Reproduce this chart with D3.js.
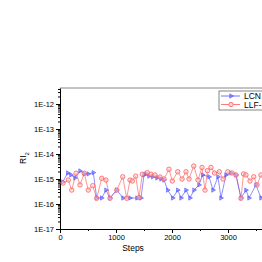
<!DOCTYPE html>
<html>
<head>
<meta charset="utf-8">
<script src="https://cdn.jsdelivr.net/npm/d3@7"></script>
<style>
  body { margin: 0; background: white; }
  text { font-family: "Liberation Sans", Arial, sans-serif; }
</style>
</head>
<body>
<div id="chart"></div>
<script>

// series (steps, RI2)
var lcnSteps = [48, 138, 196, 268, 357, 434, 505, 595, 655, 745, 821, 893, 1013, 1125, 1250, 1375, 1446,
    1500, 1536, 1589, 1655, 1732, 1804, 1857, 1923, 2013, 2102, 2161, 2250, 2321, 2393, 2482, 2548,
    2661, 2732, 2821, 2875, 2964, 3054, 3143, 3232, 3321, 3375, 3500, 3589, 3679];
var lcnValues = [7.6e-16, 1.74e-15, 1.45e-15, 1.1e-15, 2.1e-15, 1.6e-15, 1.6e-15, 1.8e-15, 1.74e-16, 1.74e-16,
    3.6e-16, 1.74e-16, 3.6e-16, 1.74e-16, 1.74e-16, 1.74e-16, 1.74e-16,
    1.45e-15, 1.6e-15, 1.3e-15, 1.23e-15, 1.1e-15, 1e-15, 9.1e-16, 3.6e-16, 1.74e-16, 3.6e-16, 1.74e-16,
    3.6e-16, 1.74e-16, 3.6e-16, 5.8e-16, 1.45e-15, 1.23e-15, 3.6e-16, 1.23e-15, 1.74e-16, 1.45e-15,
    1.74e-15, 1.45e-15, 1.74e-16, 3.6e-16, 1.74e-16, 5.8e-16, 1.74e-16, 3.6e-16];

var llfSteps = [54, 148, 209, 286, 357, 434, 505, 584, 655, 745, 821, 893, 1013, 1120, 1191, 1250, 1291,
    1352, 1411, 1470, 1559, 1625, 1696, 1786, 1857, 1946, 2005, 2102, 2179, 2250, 2304, 2388, 2464,
    2536, 2589, 2634, 2696, 2759, 2845, 2911, 2995, 3071, 3143, 3232, 3277, 3321, 3393, 3459, 3518,
    3589, 3679];
var llfValues = [6.9e-16, 9.1e-16, 3.6e-16, 1.7e-15, 5.8e-16, 1.7e-15, 3.6e-16, 5.4e-16, 1.7e-16, 1.07e-15,
    9.1e-16, 1.7e-16, 3.6e-16, 1.23e-15, 1.7e-16, 9.1e-16, 8.3e-16, 1.3e-15, 1.8e-16, 1.55e-15, 1.8e-15,
    1.55e-15, 1.45e-15, 1.2e-15, 1e-15, 2.45e-15, 8.3e-16, 1.95e-15, 1e-15, 1.95e-15, 1e-15, 3.3e-15,
    9.1e-16, 2.9e-15, 3.6e-16, 2.15e-15, 2.9e-15, 1.74e-15, 1.95e-15, 1e-15, 1.95e-15, 1.74e-15,
    1.45e-15, 1.7e-16, 1.6e-15, 1.45e-15, 8.3e-16, 1.23e-15, 5.8e-16, 1.45e-15, 1.1e-15];

var xTicks = [0, 1000, 2000, 3000];
var xMinorTicks = [500, 1500, 2500, 3500];
var yTicks = [1e-17, 1e-16, 1e-15, 1e-14, 1e-13, 1e-12];
var seriesNames = ["LCN", "LLF-"];

var width = 262, height = 262;
var mLeft = 60, mTop = 88, mBottom = 229, mRight = 284;

var svg = d3.select("#chart")
    .append("svg")
    .attr("width", width)
    .attr("height", height);

svg.append("rect")
    .attr("width", "100%")
    .attr("height", "100%")
    .attr("fill", "white");

var x = d3.scaleLinear().domain([0, 4000]).range([mLeft, mRight]);
var y = d3.scaleLog().domain([1e-17, Math.pow(10, -11.36)]).range([mBottom, mTop]);

// frame top
svg.append("line")
    .attr("x1", mLeft).attr("x2", mRight)
    .attr("y1", mTop).attr("y2", mTop)
    .style("stroke", "#888")
    .style("stroke-width", 1);

// minor ticks
var yMinor = [];
for (var e = -17; e < -11; e++) {
    for (var k = 2; k <= 9; k++) {
        if (k * Math.pow(10, e) < y.domain()[1]) yMinor.push(k * Math.pow(10, e));
    }
}
svg.append("g")
    .attr("transform", "translate(" + mLeft + ",0)")
    .call(d3.axisLeft(y).tickValues(yMinor).tickSize(2).tickFormat(""))
    .call(function(g) { g.select(".domain").remove(); });

svg.append("g")
    .attr("transform", "translate(0," + mBottom + ")")
    .call(d3.axisBottom(x).tickValues(xMinorTicks).tickSize(2).tickFormat(""))
    .call(function(g) { g.select(".domain").remove(); });

// main axes
var yAxis = svg.append("g")
    .attr("transform", "translate(" + mLeft + ",0)")
    .call(d3.axisLeft(y).tickValues(yTicks).tickSize(4).tickSizeOuter(0)
        .tickFormat(function(d) { return "1E" + Math.round(Math.log10(d)); }));
yAxis.selectAll("text").style("font-size", "7.5px").attr("x", -6).style("fill", "#000");

var xAxis = svg.append("g")
    .attr("transform", "translate(0," + mBottom + ")")
    .call(d3.axisBottom(x).tickValues(xTicks).tickSize(4).tickSizeOuter(0).tickFormat(d3.format("d")));
xAxis.selectAll("text").style("font-size", "7.5px").attr("y", 6).style("fill", "#000");

svg.selectAll(".domain, .tick line").style("stroke", "#000");

// titles
svg.append("text")
    .attr("x", 133).attr("y", 251)
    .attr("text-anchor", "middle")
    .style("font-size", "8.5px")
    .text("Steps");

var yt = svg.append("text")
    .attr("transform", "translate(26,158) rotate(-90)")
    .attr("text-anchor", "middle")
    .style("font-size", "8.5px");
yt.append("tspan").text("RI");
yt.append("tspan").attr("dy", 2.5).style("font-size", "6px").text("2");

// series
var lcn = lcnSteps.map(function(s, i) { return [s, lcnValues[i]]; });
var llf = llfSteps.map(function(s, i) { return [s, llfValues[i]]; });

var line = d3.line()
    .x(function(d) { return x(d[0]); })
    .y(function(d) { return y(d[1]); });

var blue = "#5050ff", red = "#ff5a5a";

svg.append("path").datum(llf)
    .attr("d", line)
    .style("fill", "none")
    .style("stroke", red)
    .style("stroke-opacity", 0.8)
    .style("stroke-width", 0.8);

svg.append("path").datum(lcn)
    .attr("d", line)
    .style("fill", "none")
    .style("stroke", blue)
    .style("stroke-opacity", 0.8)
    .style("stroke-width", 0.8);

var tri = d3.symbol().type(d3.symbolTriangle).size(8);

svg.append("g").selectAll("path")
    .data(lcn)
    .enter().append("path")
    .attr("d", tri)
    .attr("transform", function(d) { return "translate(" + x(d[0]) + "," + y(d[1]) + ") rotate(90)"; })
    .style("fill", blue)
    .style("fill-opacity", 0.5)
    .style("stroke", blue)
    .style("stroke-width", 0.6);

svg.append("g").selectAll("circle")
    .data(llf)
    .enter().append("circle")
    .attr("cx", function(d) { return x(d[0]); })
    .attr("cy", function(d) { return y(d[1]); })
    .attr("r", 2.2)
    .style("fill", "#ffd0d0")
    .style("fill-opacity", 0.5)
    .style("stroke", red)
    .style("stroke-width", 0.8);

// legend
var lg = svg.append("g").attr("transform", "translate(219,91)");
lg.append("rect")
    .attr("width", 60).attr("height", 19)
    .style("fill", "white")
    .style("stroke", "#666")
    .style("stroke-width", 0.8);

seriesNames.forEach(function(name, i) {
    var yy = 5 + i * 8.5;
    var c = i === 0 ? blue : red;
    lg.append("line")
        .attr("x1", 2).attr("x2", 21)
        .attr("y1", yy).attr("y2", yy)
        .style("stroke", c)
        .style("stroke-width", 0.8);
    if (i === 0) {
        lg.append("path")
            .attr("d", tri)
            .attr("transform", "translate(12," + yy + ") rotate(90)")
            .style("fill", blue).style("fill-opacity", 0.5)
            .style("stroke", blue).style("stroke-width", 0.6);
    } else {
        lg.append("circle")
            .attr("cx", 12).attr("cy", yy).attr("r", 2.2)
            .style("fill", "#ffd0d0").style("stroke", red).style("stroke-width", 0.8);
    }
    lg.append("text")
        .attr("x", 25).attr("y", yy + 3.2)
        .style("font-size", "8.5px")
        .text(name);
});

</script>
</body>
</html>
